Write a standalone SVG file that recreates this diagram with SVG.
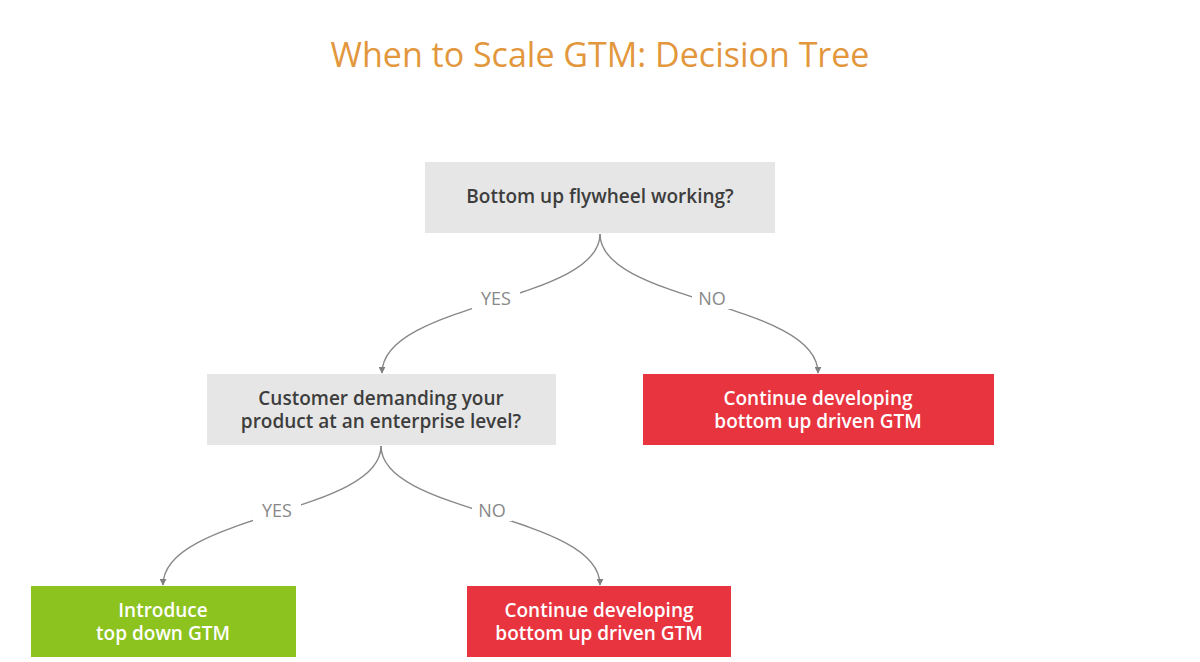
<svg xmlns="http://www.w3.org/2000/svg" width="1200" height="662" viewBox="0 0 1200 662">
<defs>
<marker id="arr" viewBox="0 0 10 10" refX="9" refY="5" markerWidth="7" markerHeight="7" markerUnits="userSpaceOnUse" orient="auto">
<path d="M0,0 L10,5 L0,10 z" fill="#7f7f7f"/>
</marker>
<style>
.title{font-family:"Open Sans",Lato,sans-serif;font-size:34px;fill:#E3973D;text-anchor:middle}
.q{fill:#E6E6E6}
.red{fill:#E8343F}
.green{fill:#8CC31F}
.tq{font-family:"Open Sans",Lato,sans-serif;font-size:19px;font-weight:600;fill:#3d3d3d;text-anchor:middle}
.tw{font-family:"Open Sans",Lato,sans-serif;font-size:19px;font-weight:600;fill:#ffffff;text-anchor:middle}
.edge{fill:none;stroke:#888888;stroke-width:1.4;marker-end:url(#arr)}
.lbl{font-family:"Open Sans",Lato,sans-serif;font-size:18px;fill:#888888;text-anchor:middle}
.lblbg{fill:#ffffff}
</style>
</defs>
<rect width="1200" height="662" fill="#ffffff"/>
<text class="title" x="600" y="67">When to Scale GTM: Decision Tree</text>
<g id="connectors">
<path class="edge" d="M600,234 C600,302 382,302 382,373"/>
<path class="edge" d="M600,234 C600,302 818,302 818,373"/>
<path class="edge" d="M381,446 C381,514 163,514 163,585"/>
<path class="edge" d="M381,446 C381,514 600,514 600,585"/>
<rect class="lblbg" x="472" y="287" width="48" height="22"/>
<text class="lbl" x="496" y="305">YES</text>
<rect class="lblbg" x="692" y="287" width="40" height="22"/>
<text class="lbl" x="712" y="305">NO</text>
<rect class="lblbg" x="253" y="499" width="48" height="22"/>
<text class="lbl" x="277" y="517">YES</text>
<rect class="lblbg" x="472" y="499" width="40" height="22"/>
<text class="lbl" x="492" y="517">NO</text>
</g>
<g id="q1">
<rect class="q" x="425" y="162" width="350" height="71"/>
<text class="tq" x="600" y="203">Bottom up flywheel working?</text>
</g>
<g id="q2">
<rect class="q" x="207" y="374" width="349" height="71"/>
<text class="tq" x="381" y="405"><tspan x="381">Customer demanding your</tspan><tspan x="381" dy="23">product at an enterprise level?</tspan></text>
</g>
<g id="no1">
<rect class="red" x="643" y="374" width="351" height="71"/>
<text class="tw" x="818" y="405"><tspan x="818">Continue developing</tspan><tspan x="818" dy="23">bottom up driven GTM</tspan></text>
</g>
<g id="yes2">
<rect class="green" x="31" y="586" width="265" height="71"/>
<text class="tw" x="163" y="617"><tspan x="163">Introduce</tspan><tspan x="163" dy="23">top down GTM</tspan></text>
</g>
<g id="no2">
<rect class="red" x="467" y="586" width="264" height="71"/>
<text class="tw" x="599" y="617"><tspan x="599">Continue developing</tspan><tspan x="599" dy="23">bottom up driven GTM</tspan></text>
</g>
</svg>
